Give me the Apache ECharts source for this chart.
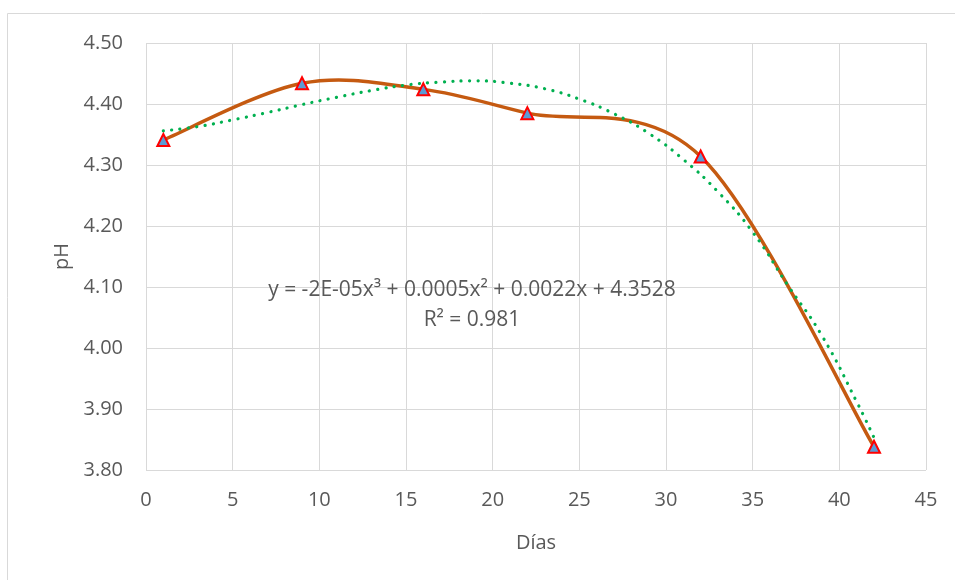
<!DOCTYPE html>
<html lang="es">
<head>
  <meta charset="UTF-8">
  <title>pH vs Días</title>
  <style>
    html, body { margin: 0; padding: 0; background: #fff; }
    #chart { width: 955px; height: 580px; }
  </style>
  <script src="https://cdn.jsdelivr.net/npm/echarts@6/dist/echarts.min.js"></script>
</head>
<body>
<div id="chart"></div>
<script>
  // datos medidos
  var dias = [1, 9, 16, 22, 32, 42];
  var ph = [4.341, 4.434, 4.424, 4.385, 4.314, 3.838];

  // linea de tendencia (polinomica)
  var tendX = [1, 3, 5, 7, 9, 11, 13, 15, 17, 19, 21, 23, 25, 27, 29, 31, 33, 35, 37, 39, 41, 42];
  var tendY = [4.356, 4.363, 4.374, 4.386, 4.399, 4.411, 4.422, 4.431, 4.436, 4.438, 4.434, 4.425, 4.408, 4.384, 4.352, 4.309, 4.256, 4.19, 4.104, 4.02, 3.912, 3.853];

  var yTicks = { min: 3.8, max: 4.5, step: 0.1 };
  var ecuacion = 'y = -2E-05x³ + 0.0005x² + 0.0022x + 4.3528';
  var r2 = 'R² = 0.981';

  var font = '"Open Sans", "Liberation Sans", sans-serif';
  var gris = '#595959';

  // linea suavizada estilo Excel (Catmull-Rom), un tramo por punto
  function tramoSuave(params, api) {
    var i = params.dataIndex;
    var n = dias.length;
    if (i >= n - 1) return null;
    function p(k) {
      k = Math.max(0, Math.min(n - 1, k));
      return api.coord([dias[k], ph[k]]);
    }
    var p0 = p(i - 1), p1 = p(i), p2 = p(i + 1), p3 = p(i + 2);
    return {
      type: 'bezierCurve',
      shape: {
        x1: p1[0], y1: p1[1], x2: p2[0], y2: p2[1],
        cpx1: p1[0] + (p2[0] - p0[0]) / 6, cpy1: p1[1] + (p2[1] - p0[1]) / 6,
        cpx2: p2[0] - (p3[0] - p1[0]) / 6, cpy2: p2[1] - (p3[1] - p1[1]) / 6
      },
      style: { stroke: '#c55a11', lineWidth: 3.5, fill: null, lineCap: 'round' }
    };
  }

  var puntos = dias.map(function (d, i) { return [d, ph[i]]; });

  var chart = echarts.init(document.getElementById('chart'));
  chart.setOption({
    animation: false,
    grid: { left: 146, right: 29, top: 43, bottom: 110 },
    graphic: [
      {
        type: 'rect',
        shape: { x: 7.5, y: 13.5, width: 980, height: 600 },
        style: { fill: 'none', stroke: '#d9d9d9', lineWidth: 1 },
        silent: true
      },
      {
        type: 'text',
        x: 472, y: 290,
        style: {
          text: ecuacion,
          align: 'center', verticalAlign: 'middle',
          fill: gris,
          font: '21px ' + font
        },
        z: 10
      },
      {
        type: 'text',
        x: 472, y: 320,
        style: {
          text: r2,
          align: 'center', verticalAlign: 'middle',
          fill: gris,
          font: '21px ' + font
        },
        z: 10
      }
    ],
    xAxis: {
      type: 'value',
      min: 0, max: 45, interval: 5,
      name: 'Días',
      nameLocation: 'middle',
      nameGap: 63,
      nameTextStyle: { color: gris, fontSize: 20, fontFamily: font },
      axisLine: { show: false },
      axisTick: { show: false },
      axisLabel: { color: gris, fontSize: 20, fontFamily: font, margin: 20 },
      splitLine: { lineStyle: { color: '#d9d9d9', width: 1 } }
    },
    yAxis: {
      type: 'value',
      min: yTicks.min, max: yTicks.max, interval: yTicks.step,
      name: 'pH',
      nameLocation: 'middle',
      nameGap: 74,
      nameTextStyle: { color: gris, fontSize: 20, fontFamily: font },
      axisLine: { show: false },
      axisTick: { show: false },
      axisLabel: {
        color: gris, fontSize: 20, fontFamily: font, margin: 23,
        formatter: function (v) { return v.toFixed(2); }
      },
      splitLine: { lineStyle: { color: '#d9d9d9', width: 1 } }
    },
    series: [
      {
        name: 'pH',
        type: 'custom',
        data: puntos,
        encode: { x: 0, y: 1 },
        renderItem: tramoSuave,
        z: 2
      },
      {
        name: 'Polinómica',
        type: 'line',
        data: tendX.map(function (d, i) { return [d, tendY[i]]; }),
        smooth: true,
        symbol: 'none',
        lineStyle: { color: '#00b050', width: 3.2, type: [0.1, 8.3], cap: 'round' },
        z: 3
      },
      {
        name: 'pH puntos',
        type: 'scatter',
        data: puntos,
        symbol: 'triangle',
        symbolSize: 12,
        itemStyle: { color: '#5b9bd5', borderColor: '#ff0000', borderWidth: 2, opacity: 1 },
        z: 4
      }
    ]
  });
</script>
</body>
</html>
